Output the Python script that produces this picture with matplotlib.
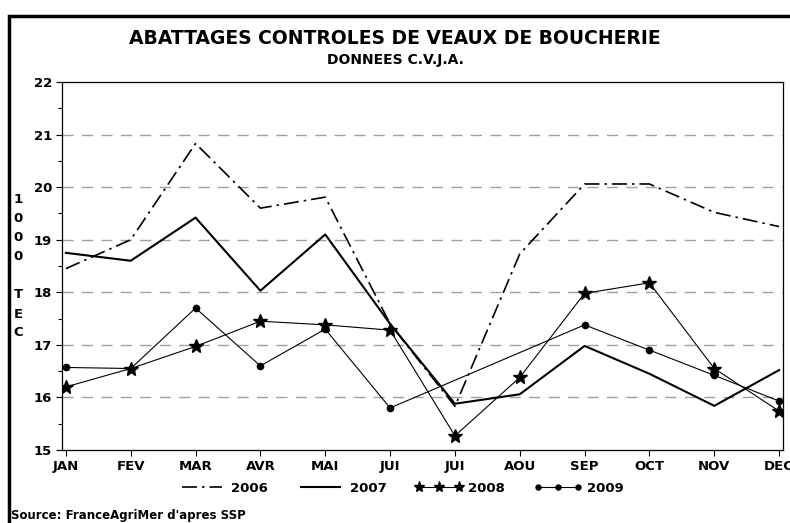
import numpy as np
import matplotlib.pyplot as plt
from matplotlib.patches import Rectangle
from matplotlib.ticker import MultipleLocator

months = ["JAN", "FEV", "MAR", "AVR", "MAI", "JUI", "JUI", "AOU",
          "SEP", "OCT", "NOV", "DEC"]

# thousands of TEC
y2006 = [18.45, 19.0, 20.83, 19.6, 19.81, 17.4, 15.83, 18.73, 20.06, 20.06, 19.52, 19.25]
y2007 = [18.75, 18.6, 19.42, 18.03, 19.1, 17.4, 15.88, 16.06, 16.98, 16.45, 15.84, 16.52]
y2008 = [16.2, 16.55, 16.97, 17.45, 17.38, 17.28, 15.27, 16.38, 17.98, 18.18, 16.55, 15.74]
# no values for July / August 2009
y2009 = [16.57, 16.55, 17.7, 16.6, 17.3, 15.8, None, None, 17.38, 16.9, 16.42, 15.93]

BOLD = dict(fontweight="bold", family="DejaVu Sans")


def main():
    fig = plt.figure(figsize=(7.9, 5.23), dpi=100)
    ax = fig.add_axes([62 / 790, 1 - 450 / 523, (783 - 62) / 790, (450 - 82) / 523])

    x = np.arange(len(months))
    ax.plot(x, y2006, color="black", lw=1.2, dashes=(9, 3, 1.5, 3), label="2006")
    ax.plot(x, y2007, color="black", lw=1.5, label="2007")
    ax.plot(x, y2008, color="black", lw=0.8, marker="*", ms=10, label="2008")

    # 2009: skip the missing months, line joins across the gap
    x09 = [i for i, v in enumerate(y2009) if v is not None]
    v09 = [v for v in y2009 if v is not None]
    ax.plot(x09, v09, color="black", lw=0.8, marker="o", ms=4.5, label="2009")

    ax.set_xlim(-0.06, 11.06)
    ax.set_ylim(15, 22)
    ax.set_xticks(x)
    ax.set_xticklabels(months)
    ax.yaxis.set_major_locator(MultipleLocator(1))
    ax.yaxis.set_minor_locator(MultipleLocator(0.5))
    for lab in ax.get_xticklabels() + ax.get_yticklabels():
        lab.set_fontweight("bold")
        lab.set_fontsize(9.5)
    ax.tick_params(axis="both", direction="out", length=4, width=0.8, pad=3)
    ax.tick_params(axis="y", which="minor", length=3, width=0.8)

    for level in range(16, 22):
        ax.axhline(level, color="#a0a0a0", lw=1.0, dashes=(8, 6), zorder=0)

    for sp in ax.spines.values():
        sp.set_linewidth(0.9)

    ax.legend(loc="upper center", bbox_to_anchor=(0.47, -0.055), ncol=4,
              frameon=False, numpoints=3, handlelength=3.6, columnspacing=2.2,
              handletextpad=0.4, markerscale=0.8,
              prop=dict(weight="bold", size=9.5))

    fig.text(0.5, 1 - 38 / 523, "ABATTAGES CONTROLES DE VEAUX DE BOUCHERIE",
             ha="center", va="center", fontsize=13.5, **BOLD)
    fig.text(0.5, 1 - 60 / 523, "DONNEES C.V.J.A.",
             ha="center", va="center", fontsize=10, **BOLD)

    fig.text(18 / 790, 1 - 228 / 523, "1\n0\n0\n0", ha="center", va="center",
             fontsize=9.5, linespacing=1.6, **BOLD)
    fig.text(18 / 790, 1 - 314 / 523, "T\nE\nC", ha="center", va="center",
             fontsize=9.5, linespacing=1.6, **BOLD)

    fig.text(11 / 790, 1 - 515 / 523, "Source: FranceAgriMer d'apres SSP",
             ha="left", va="center", fontsize=8.5, **BOLD)

    # outer frame, only its top and left edges fall inside the picture
    fig.patches.append(Rectangle((9 / 790, -0.5), 2, 0.5 + (1 - 16 / 523),
                                 transform=fig.transFigure, fill=False,
                                 edgecolor="black", lw=2.5))

    fig.savefig("out.png", dpi=100)


if __name__ == "__main__":
    main()
